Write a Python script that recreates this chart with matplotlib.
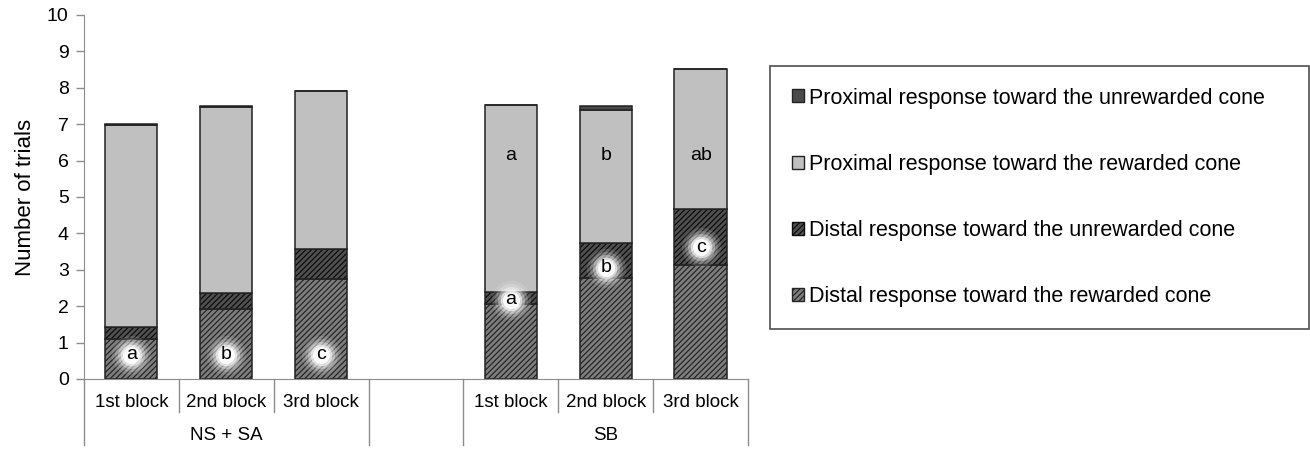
import numpy as np
import matplotlib
matplotlib.use('Agg')
import matplotlib.pyplot as plt
from matplotlib.patches import Patch

plt.rcParams['font.family'] = ['Liberation Sans', 'DejaVu Sans']
plt.rcParams['hatch.linewidth'] = 0.9

# Datos (el hueco entre grupos es una categoria vacia)
bloques = ['1st block', '2nd block', '3rd block', '', '1st block', '2nd block', '3rd block']
grupos = ['NS + SA', '', 'SB']
distal_rew = [1.10, 1.91, 2.75, 0, 2.05, 2.78, 3.12]
distal_unrew = [0.33, 0.45, 0.82, 0, 0.34, 0.96, 1.55]
prox_rew = [5.54, 5.10, 4.33, 0, 5.13, 3.65, 3.85]
prox_unrew = [0.03, 0.04, 0.00, 0, 0.00, 0.12, 0.00]

# Letras de significancia
letras_dist = ['a', 'b', 'c', '', 'a', 'b', 'c']
y_dist = [0.66, 0.66, 0.66, 0, 2.17, 3.05, 3.62]
letras_prox = ['', '', '', '', 'a', 'b', 'ab']
y_prox = [0, 0, 0, 0, 6.15, 6.15, 6.15]

x = np.arange(len(bloques))
hay_barra = np.array([b != '' for b in bloques])
xb = x[hay_barra]
ancho = 0.55

fig = plt.figure(figsize=(13.1, 4.49), dpi=100)
ax = fig.add_axes([0.0641, 0.156, 0.5069, 0.8106])

def sel(v):
    return np.array(v)[hay_barra]

base = np.zeros(len(xb))
capas = [
    (sel(distal_rew), '#7e7e7e', '#262626', '//////', 'Distal response toward the rewarded cone'),
    (sel(distal_unrew), '#505050', '#0d0d0d', '//////', 'Distal response toward the unrewarded cone'),
    (sel(prox_rew), '#c0c0c0', None, None, 'Proximal response toward the rewarded cone'),
    (sel(prox_unrew), '#4a4a4a', None, None, 'Proximal response toward the unrewarded cone'),
]
handles = []
for vals, fc, hc, hatch, lab in capas:
    if hatch:
        ax.bar(xb, vals, ancho, bottom=base, color=fc, edgecolor=hc, hatch=hatch, linewidth=0)
    else:
        ax.bar(xb, vals, ancho, bottom=base, color=fc, linewidth=0)
    ax.bar(xb, vals, ancho, bottom=base, fill=False, edgecolor='#222222', linewidth=1.1)
    base = base + vals
    handles.append(Patch(facecolor=fc, edgecolor='#222222' if hc is None else hc,
                         hatch=hatch, linewidth=1.0, label=lab))

# letras con halo blanco
for xi, l, yi in zip(x, letras_dist, y_dist):
    if l:
        for s, a in [(800, 0.12), (560, 0.2), (380, 0.35), (240, 0.6), (150, 0.9)]:
            ax.scatter(xi, yi, s=s, color='white', alpha=a, linewidths=0, zorder=4)
        ax.text(xi, yi, l, ha='center', va='center', fontsize=14, zorder=5)
for xi, l, yi in zip(x, letras_prox, y_prox):
    if l:
        ax.text(xi, yi, l, ha='center', va='center', fontsize=14, zorder=5)

ax.set_xlim(-0.5, len(bloques) - 0.5)
ax.set_ylim(0, 10)
ax.set_yticks(range(0, 11))
ax.tick_params(axis='y', labelsize=14, color='#8c8c8c', length=6, width=1, pad=5)
ax.set_xticks([])
for s in ['top', 'right']:
    ax.spines[s].set_visible(False)
ax.spines['left'].set_color('#8c8c8c')
ax.spines['bottom'].set_color('#8c8c8c')
ax.set_ylabel('Number of trials', fontsize=16, labelpad=8)

# eje de categorias en dos niveles
tr = ax.get_xaxis_transform()
for xi, b in zip(x, bloques):
    ax.text(xi, -0.066, b, transform=tr, ha='center', va='center', fontsize=13.5)
centros = [1, 3, 5]
for xc, g in zip(centros, grupos):
    ax.text(xc, -0.155, g, transform=tr, ha='center', va='center', fontsize=13.5)
for xs in [0.5, 1.5, 4.5, 5.5]:
    ax.plot([xs, xs], [0, -0.092], transform=tr, color='#8c8c8c', lw=1, clip_on=False)
for xs in [-0.5, 2.5, 3.5, 6.5]:
    ax.plot([xs, xs], [0, -0.182], transform=tr, color='#8c8c8c', lw=1, clip_on=False)

leg = fig.legend(handles=handles[::-1], loc='upper left',
                 bbox_to_anchor=(0.588, 0.258, 0.411, 0.595), mode='expand',
                 fontsize=15.5, frameon=True, fancybox=False, edgecolor='#222222',
                 handlelength=0.55, handleheight=0.55, handletextpad=0.25,
                 labelspacing=2.1, borderpad=1.0, borderaxespad=0)
leg.get_frame().set_linewidth(1.2)

fig.savefig('out.png', dpi=100)
